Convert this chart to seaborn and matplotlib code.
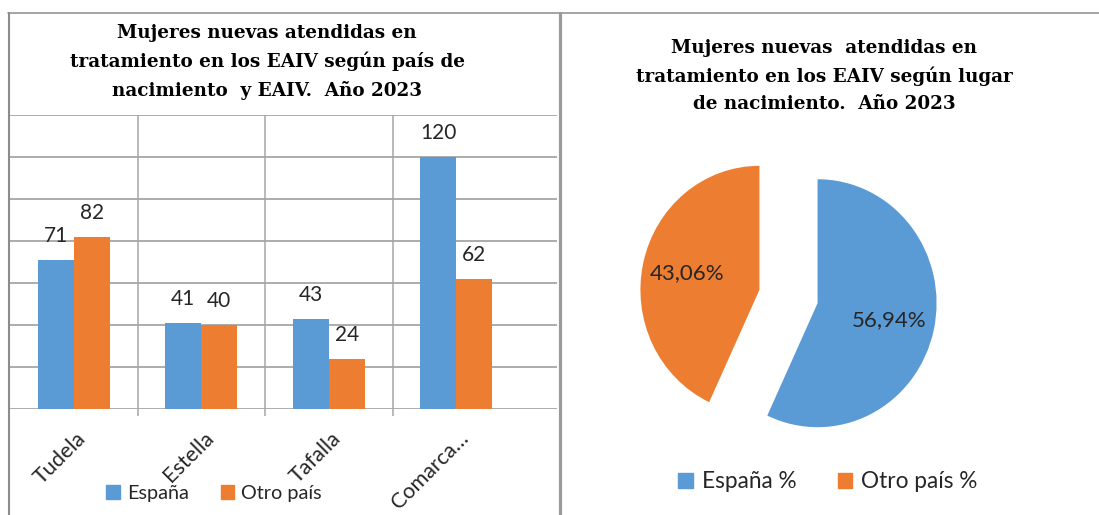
import numpy as np
import pandas as pd
import matplotlib.pyplot as plt
import seaborn as sns
from matplotlib.lines import Line2D
from matplotlib.patches import Patch
from matplotlib.transforms import ScaledTranslation

# Datos
eaiv = ['Tudela', 'Estella', 'Tafalla', 'Comarca…']
espana = [71, 41, 43, 120]
otro_pais = [82, 40, 24, 62]
series = ['España', 'Otro país']

pie_labels = ['España %', 'Otro país %']
pie_pct = [56.94, 43.06]

titulo_barras = ('Mujeres nuevas atendidas en\n'
                 'tratamiento en los EAIV según país de\n'
                 'nacimiento  y EAIV.  Año 2023')
titulo_pie = ('Mujeres nuevas  atendidas en\n'
              'tratamiento en los EAIV según lugar\n'
              'de nacimiento.  Año 2023')

AZUL = '#5B9BD5'
NARANJA = '#ED7D31'
GRID = '#A6A6A6'
BORDE = '#8C8C8C'
TXT = '#262626'
SERIF = ['DejaVu Serif']

sns.set_style('white')
plt.rcParams['font.family'] = ['Lato', 'DejaVu Sans']

W, H = 1099, 515
fig = plt.figure(figsize=(W / 100, H / 100), dpi=100)


def box(l, t, r, b):
    # caja en pixeles (desde arriba a la izquierda) -> rect de figura
    return [l / W, 1 - b / H, (r - l) / W, (b - t) / H]


def fx(x):
    return x / W


def fy(y):
    return 1 - y / H


# ---------------- Grafico de barras ----------------
df = pd.DataFrame({
    'EAIV': eaiv * 2,
    'Origen': [series[0]] * len(eaiv) + [series[1]] * len(eaiv),
    'Mujeres': espana + otro_pais,
})

ax = fig.add_axes(box(10, 115, 557, 409))
sns.barplot(data=df, x='EAIV', y='Mujeres', hue='Origen',
            palette=[AZUL, NARANJA], width=0.565, saturation=1,
            linewidth=0, legend=False, ax=ax)
ax.set_ylim(0, 140)
ax.set_yticks(range(0, 141, 20))
ax.set_yticklabels([])
ax.set_xlim(-0.5, 3.79)
ax.grid(axis='y', color=GRID, lw=1.3)
ax.set_axisbelow(True)
ax.vlines([0.5, 1.5, 2.5], -3.3, 140, color=GRID, lw=1.1, clip_on=False, zorder=0)
for s in ax.spines.values():
    s.set_visible(False)
ax.set_xlabel('')
ax.set_ylabel('')
ax.tick_params(axis='both', length=0)
ax.tick_params(axis='x', pad=19)
plt.setp(ax.get_xticklabels(), rotation=45, ha='right', va='center',
         rotation_mode='anchor', fontsize=15.5, color=TXT)
for lbl in ax.get_xticklabels():
    lbl.set_transform(lbl.get_transform() + ScaledTranslation(0.09, 0, fig.dpi_scale_trans))

for c in ax.containers:
    ax.bar_label(c, padding=10, fontsize=15, color=TXT)

fig.text(fx(267), fy(62), titulo_barras, ha='center', va='center', color='black',
         fontsize=13.2, fontweight='bold', family=SERIF, linespacing=1.66)

fig.legend(handles=[Patch(color=AZUL), Patch(color=NARANJA)], labels=series,
           loc='center', bbox_to_anchor=(fx(214), fy(493)), ncol=2, frameon=False,
           fontsize=14.3, handlelength=0.7, handleheight=0.7, handletextpad=0.35,
           columnspacing=1.6, labelcolor=TXT)

# ---------------- Grafico circular ----------------
# radio algo mayor en vertical, como en la imagen original
ax2 = fig.add_axes(box(788.5 - 158.7, 296.5 - 165.3, 788.5 + 158.7, 296.5 + 165.3))
ax2.pie(pie_pct, explode=[0.25, 0.25], colors=[AZUL, NARANJA], startangle=90,
        counterclock=False, autopct=lambda p: f'{p:.2f}%'.replace('.', ','),
        pctdistance=0.62, wedgeprops=dict(linewidth=0),
        textprops=dict(fontsize=16, color=TXT))
ax2.set_aspect('auto')
ax2.set_xlim(-4 / 3, 4 / 3)
ax2.set_ylim(-4 / 3, 4 / 3)
ax2.axis('off')

fig.text(fx(824), fy(76), titulo_pie, ha='center', va='center', color='black',
         fontsize=13.2, fontweight='bold', family=SERIF, linespacing=1.6)

fig.legend(handles=[Patch(color=AZUL), Patch(color=NARANJA)], labels=pie_labels,
           loc='center', bbox_to_anchor=(fx(828), fy(482)), ncol=2, frameon=False,
           fontsize=16.3, handlelength=0.65, handleheight=0.65, handletextpad=0.4,
           columnspacing=1.8, labelcolor=TXT)

# ---------------- Marcos ----------------
fig.add_artist(Line2D([fx(8), 1], [fy(13), fy(13)], color=BORDE, lw=1.1))
fig.add_artist(Line2D([fx(8.5), fx(8.5)], [fy(13), 0], color=BORDE, lw=1.5))
fig.add_artist(Line2D([fx(559.5), fx(559.5)], [fy(13), 0], color='#9A9A9A', lw=2.3))

fig.savefig('out.png', dpi=100)
